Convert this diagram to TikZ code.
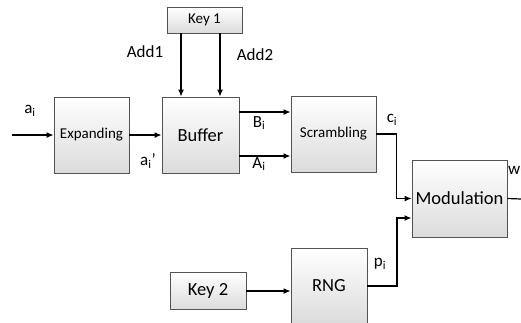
\documentclass[tikz,border=0pt]{standalone}
\usepackage{fontspec}
\setmainfont{Carlito}
\usetikzlibrary{arrows.meta,calc}
\begin{document}
\begin{tikzpicture}[x=1pt,y=-1pt,
  blk/.style={draw=gray!65!black, line width=0.9pt, top color=white, bottom color=gray!28, inner sep=0pt},
  ln/.style={line width=1.2pt},
  arr/.style={ln,-{Latex[length=7pt,width=6pt]}},
  lbl/.style={font=\fontsize{17}{19}\selectfont, inner sep=0pt},
  bigf/.style={font=\fontsize{18.5}{20}\selectfont},
  midf/.style={font=\fontsize{15}{16}\selectfont}]
\useasboundingbox (0,0) rectangle (521,322);
\clip (0,0) rectangle (521,322);
% blocks
\node[blk, midf, minimum width=75pt, minimum height=26pt] (key1) at (204.5,20) {Key 1};
\node[blk, midf, minimum width=75pt, minimum height=76pt] (exp) at (91.5,135) {Expanding};
\node[blk, bigf, minimum width=77pt, minimum height=76pt] (buf) at (200.5,135) {Buffer};
\node[blk, midf, minimum width=85pt, minimum height=76pt] (scr) at (333.5,134) {Scrambling};
\node[blk, bigf, minimum width=95pt, minimum height=77pt] (mod) at (459.5,198.5) {Modulation};
\node[blk, bigf, minimum width=76pt, minimum height=76pt] (rng) at (329,286) {RNG};
\node[blk, bigf, minimum width=76pt, minimum height=37pt] (key2) at (208,291) {Key 2};
% free ends
\coordinate (in) at (12,135);
\coordinate (out) at (521,199);
% connectors
\draw[arr] (in) -- (exp.west);
\draw[arr] (exp.east) -- (buf.west);
\draw[arr] (key1.south -| 181,0) -- (buf.north -| 181,0);
\draw[arr] (key1.south -| 220,0) -- (buf.north -| 220,0);
\draw[arr] (buf.east |- 0,112) -- (scr.west |- 0,112);
\draw[arr,line width=1.6pt] (buf.east |- 0,156) -- (scr.west |- 0,156);
\draw[arr] (scr.east) -- ++(20,0) |- (mod.west);
\draw[arr,line width=1.6pt] (rng.east) -- ++(29.5,0) |- ($(mod.west)+(0,19.5)$);
\draw[arr] (key2.east) -- (rng.west |- key2.east);
\draw[ln] (mod.east) -- (out);
% labels
\node[lbl] (la) at (30,111) {a\textsubscript{i}};
\node[lbl] (lap) at (148,161) {a\textsubscript{i}\textquoteright};
\node[lbl] (add1) at (145,52) {Add1};
\node[lbl] (add2) at (255,55) {Add2};
\node[lbl] (lb) at (259,123) {B\textsubscript{i}};
\node[lbl] (lA) at (259,164) {A\textsubscript{i}};
\node[lbl] (lc) at (392,120) {c\textsubscript{i}};
\node[lbl] (lp) at (380,264) {p\textsubscript{i}};
\node[lbl, anchor=west] (lw) at (508,172) {w\textsubscript{i}};
\end{tikzpicture}
\end{document}
